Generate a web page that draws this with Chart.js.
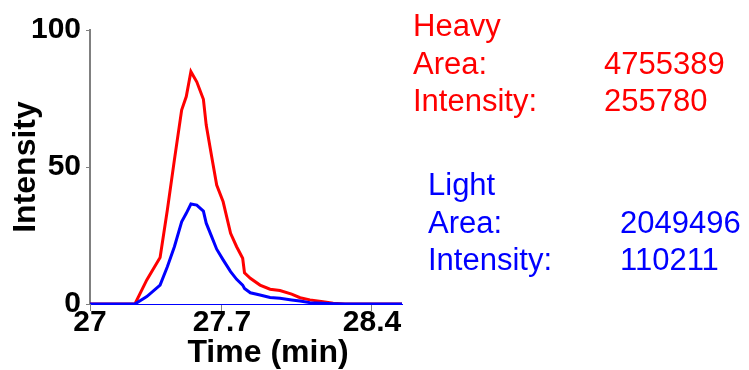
<!DOCTYPE html>
<html>
<head>
<meta charset="utf-8">
<script src="https://cdn.jsdelivr.net/npm/chart.js@4"></script>
<style>
  html, body { margin: 0; padding: 0; background: #fff; }
  #wrap { width: 749px; height: 370px; }
</style>
</head>
<body>
<div id="wrap"><canvas id="myChart"></canvas></div>
<script>
// retention time (min), shared by both traces
const times = [27.000, 27.223, 27.282, 27.348, 27.384, 27.419, 27.455, 27.478, 27.501, 27.530,
               27.563, 27.577, 27.604, 27.629, 27.661, 27.698, 27.728, 27.758, 27.767, 27.796,
               27.844, 27.894, 27.943, 28.001, 28.043, 28.092, 28.157, 28.207, 28.266, 28.549];
const heavy = [0, 0, 8.8, 17.0, 34.3, 52.6, 70.8, 75.7, 84.8, 81.1,
               74.7, 65.3, 53.8, 43.4, 37.3, 25.8, 20.9, 16.7, 11.4, 9.4,
               6.9, 5.4, 4.9, 3.6, 2.3, 1.5, 0.8, 0.3, 0, 0];
const light = [0, 0, 2.7, 6.9, 13.6, 20.9, 30.0, 33.1, 36.5, 36.1,
               33.9, 29.5, 24.6, 20.0, 16.1, 11.8, 9.0, 6.9, 5.7, 4.1,
               3.3, 2.4, 2.1, 1.5, 1.1, 0.5, 0.25, 0.1, 0, 0];

const xTickValues = [27, 27.655, 28.4];
const xTickLabels = ['27', '27.7', '28.4'];
const yTickValues = [0, 50, 100];

const heavyInfo = { name: 'Heavy', area: 4755389, intensity: 255780 };
const lightInfo = { name: 'Light', area: 2049496, intensity: 110211 };

const FONT = "'Liberation Sans', Arial, sans-serif";

const toPoints = (vals) => times.map((t, i) => ({ x: t, y: vals[i] }));

// side annotations + x axis title
const annotate = {
    id: 'annotate',
    afterDraw(chart) {
        const c = chart.ctx;
        c.save();
        c.textBaseline = 'alphabetic';
        c.textAlign = 'left';
        c.font = '31px ' + FONT;
        const block = (info, color, x, vx, y0) => {
            c.fillStyle = color;
            c.fillText(info.name, x, y0);
            c.fillText('Area:', x, y0 + 38);
            c.fillText(String(info.area), vx, y0 + 38);
            c.fillText('Intensity:', x, y0 + 75);
            c.fillText(String(info.intensity), vx, y0 + 75);
        };
        block(heavyInfo, '#ff0000', 413, 604, 36);
        block(lightInfo, '#0000ff', 428, 620, 195);

        c.fillStyle = '#000';
        c.font = 'bold 32px ' + FONT;
        c.textAlign = 'center';
        c.fillText('Time (min)', 268, 362);
        c.restore();
    }
};

const ctx = document.getElementById('myChart').getContext('2d');

new Chart(ctx, {
    type: 'line',
    data: {
        datasets: [{
            label: 'Heavy',
            data: toPoints(heavy),
            borderColor: '#ff0000',
            borderWidth: 3,
            pointRadius: 0,
            tension: 0,
            order: 2
        }, {
            label: 'Light',
            data: toPoints(light),
            borderColor: '#0000ff',
            borderWidth: 3,
            pointRadius: 0,
            tension: 0,
            order: 1
        }]
    },
    options: {
        responsive: true,
        maintainAspectRatio: false,
        animation: false,
        layout: {
            padding: { left: 0, right: 347, top: 30, bottom: 0 }
        },
        plugins: {
            legend: { display: false },
            tooltip: { enabled: false }
        },
        scales: {
            x: {
                type: 'linear',
                min: 27,
                max: 28.549,
                afterBuildTicks: (scale) => {
                    scale.ticks = xTickValues.map(v => ({ value: v }));
                },
                afterFit: (scale) => { scale.height = 66; },
                grid: {
                    drawOnChartArea: false,
                    color: '#808080',
                    tickLength: 7
                },
                border: { color: '#0000ff', width: 1 },
                ticks: {
                    autoSkip: false,
                    maxRotation: 0,
                    color: '#000',
                    padding: -3,
                    font: { family: FONT, size: 30, weight: 'bold', lineHeight: 1 },
                    callback: (v, i) => xTickLabels[i]
                }
            },
            y: {
                min: 0,
                max: 100,
                afterBuildTicks: (scale) => {
                    scale.ticks = yTickValues.map(v => ({ value: v }));
                },
                afterFit: (scale) => { scale.width = 90; },
                grid: {
                    drawOnChartArea: false,
                    color: '#808080',
                    tickLength: 4
                },
                border: { color: '#808080', width: 2 },
                ticks: {
                    color: '#000',
                    padding: 5,
                    font: { family: FONT, size: 30, weight: 'bold' }
                },
                title: {
                    display: true,
                    text: 'Intensity',
                    color: '#000',
                    padding: { top: 7, bottom: 0 },
                    font: { family: FONT, size: 32, weight: 'bold' }
                }
            }
        }
    },
    plugins: [annotate]
});
</script>
</body>
</html>
